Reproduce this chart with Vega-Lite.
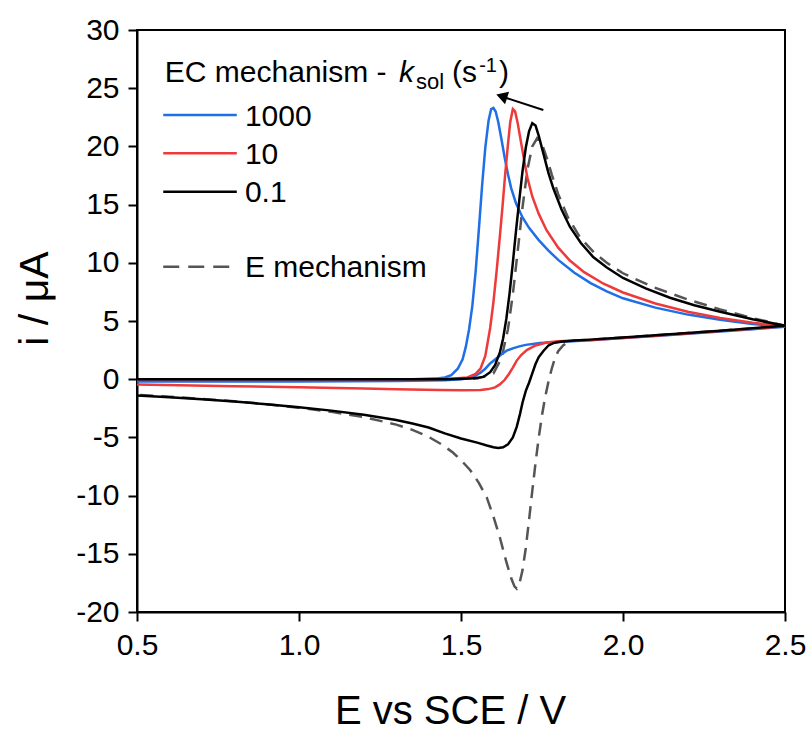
{
  "$schema": "https://vega.github.io/schema/vega-lite/v6.json",
  "width": 648,
  "height": 582,
  "autosize": {"type": "none"},
  "padding": {"left": 137, "top": 30, "right": 27, "bottom": 119},
  "background": "white",
  "config": {
    "font": "Liberation Sans",
    "view": {"stroke": "#000000", "strokeWidth": 2},
    "axis": {
      "grid": false,
      "domainColor": "#000000",
      "domainWidth": 2,
      "tickColor": "#000000",
      "tickWidth": 2,
      "tickSize": 9,
      "labelColor": "#000000",
      "titleColor": "#000000",
      "labelFontSize": 30,
      "titleFontSize": 40,
      "titleFontWeight": "normal",
      "labelFont": "Liberation Sans",
      "titleFont": "Liberation Sans",
      "labelPadding": 9,
      "labelFlush": false,
      "labelOverlap": false,
      "labelExpr": "replace(datum.label, '−', '-')"
    }
  },
  "datasets": {
    "cv": [
      {"s":"E","E":0.5,"i":0},{"s":"E","E":1.0,"i":0},{"s":"E","E":1.45,"i":0},{"s":"E","E":1.55,"i":0.05},{"s":"E","E":1.6,"i":0.5},{"s":"E","E":1.625,"i":1.8},{"s":"E","E":1.645,"i":4.3},{"s":"E","E":1.66,"i":7.3},{"s":"E","E":1.675,"i":11},{"s":"E","E":1.69,"i":14.8},{"s":"E","E":1.705,"i":18},{"s":"E","E":1.72,"i":20},{"s":"E","E":1.735,"i":20.7},{"s":"E","E":1.75,"i":20.2},{"s":"E","E":1.765,"i":19.0},{"s":"E","E":1.78,"i":17.6},{"s":"E","E":1.8,"i":15.9},{"s":"E","E":1.83,"i":13.9},{"s":"E","E":1.867,"i":12.2},{"s":"E","E":1.91,"i":10.9},{"s":"E","E":1.95,"i":10.0},{"s":"E","E":2.0,"i":9.1},{"s":"E","E":2.094,"i":7.9},{"s":"E","E":2.2,"i":6.85},{"s":"E","E":2.3,"i":6.0},{"s":"E","E":2.4,"i":5.25},{"s":"E","E":2.5,"i":4.6},
      {"s":"E","E":2.4,"i":4.38},{"s":"E","E":2.3,"i":4.17},{"s":"E","E":2.2,"i":3.97},{"s":"E","E":2.1,"i":3.77},{"s":"E","E":2.0,"i":3.58},{"s":"E","E":1.9,"i":3.4},{"s":"E","E":1.85,"i":3.32},{"s":"E","E":1.83,"i":3.2},{"s":"E","E":1.815,"i":2.9},{"s":"E","E":1.8,"i":2.4},{"s":"E","E":1.79,"i":1.8},{"s":"E","E":1.78,"i":0.9},{"s":"E","E":1.77,"i":-0.2},{"s":"E","E":1.76,"i":-1.5},{"s":"E","E":1.75,"i":-3.1},{"s":"E","E":1.74,"i":-5},{"s":"E","E":1.73,"i":-7.2},{"s":"E","E":1.72,"i":-9.6},{"s":"E","E":1.71,"i":-12.1},{"s":"E","E":1.7,"i":-14.5},{"s":"E","E":1.69,"i":-16.4},{"s":"E","E":1.68,"i":-17.6},{"s":"E","E":1.672,"i":-18},{"s":"E","E":1.665,"i":-17.8},{"s":"E","E":1.655,"i":-17.1},{"s":"E","E":1.64,"i":-15.7},{"s":"E","E":1.62,"i":-13.6},{"s":"E","E":1.6,"i":-11.8},{"s":"E","E":1.58,"i":-10.2},{"s":"E","E":1.555,"i":-8.9},{"s":"E","E":1.528,"i":-7.8},{"s":"E","E":1.5,"i":-6.95},{"s":"E","E":1.475,"i":-6.3},{"s":"E","E":1.44,"i":-5.6},{"s":"E","E":1.4,"i":-4.95},{"s":"E","E":1.35,"i":-4.35},{"s":"E","E":1.3,"i":-3.9},{"s":"E","E":1.2,"i":-3.25},{"s":"E","E":1.1,"i":-2.8},{"s":"E","E":1.0,"i":-2.45},{"s":"E","E":0.9,"i":-2.15},{"s":"E","E":0.8,"i":-1.9},{"s":"E","E":0.7,"i":-1.7},{"s":"E","E":0.6,"i":-1.5},{"s":"E","E":0.5,"i":-1.35},

      {"s":"1000","E":0.5,"i":0},{"s":"1000","E":1.0,"i":0},{"s":"1000","E":1.35,"i":0},{"s":"1000","E":1.42,"i":0.05},{"s":"1000","E":1.45,"i":0.15},{"s":"1000","E":1.47,"i":0.35},{"s":"1000","E":1.49,"i":0.9},{"s":"1000","E":1.505,"i":1.7},{"s":"1000","E":1.515,"i":2.8},{"s":"1000","E":1.525,"i":4.3},{"s":"1000","E":1.535,"i":6.3},{"s":"1000","E":1.545,"i":9.2},{"s":"1000","E":1.555,"i":12.8},{"s":"1000","E":1.565,"i":16.6},{"s":"1000","E":1.575,"i":19.9},{"s":"1000","E":1.585,"i":22.2},{"s":"1000","E":1.593,"i":23.2},{"s":"1000","E":1.6,"i":23.3},{"s":"1000","E":1.607,"i":23.0},{"s":"1000","E":1.615,"i":22.1},{"s":"1000","E":1.625,"i":20.6},{"s":"1000","E":1.635,"i":19.0},{"s":"1000","E":1.645,"i":17.6},{"s":"1000","E":1.655,"i":16.4},{"s":"1000","E":1.67,"i":15.1},{"s":"1000","E":1.69,"i":13.9},{"s":"1000","E":1.71,"i":13.0},{"s":"1000","E":1.74,"i":11.95},{"s":"1000","E":1.77,"i":11.05},{"s":"1000","E":1.8,"i":10.25},{"s":"1000","E":1.85,"i":9.15},{"s":"1000","E":1.9,"i":8.25},{"s":"1000","E":1.95,"i":7.55},{"s":"1000","E":2.0,"i":6.95},{"s":"1000","E":2.1,"i":6.15},{"s":"1000","E":2.2,"i":5.55},{"s":"1000","E":2.3,"i":5.1},{"s":"1000","E":2.4,"i":4.75},{"s":"1000","E":2.5,"i":4.5},
      {"s":"1000","E":2.4,"i":4.3},{"s":"1000","E":2.3,"i":4.1},{"s":"1000","E":2.2,"i":3.9},{"s":"1000","E":2.1,"i":3.72},{"s":"1000","E":2.0,"i":3.53},{"s":"1000","E":1.9,"i":3.35},{"s":"1000","E":1.8,"i":3.2},{"s":"1000","E":1.744,"i":3.1},{"s":"1000","E":1.7,"i":2.95},{"s":"1000","E":1.68,"i":2.82},{"s":"1000","E":1.66,"i":2.65},{"s":"1000","E":1.641,"i":2.45},{"s":"1000","E":1.625,"i":2.15},{"s":"1000","E":1.61,"i":1.8},{"s":"1000","E":1.59,"i":1.35},{"s":"1000","E":1.575,"i":0.9},{"s":"1000","E":1.56,"i":0.55},{"s":"1000","E":1.545,"i":0.3},{"s":"1000","E":1.525,"i":0.1},{"s":"1000","E":1.5,"i":0},{"s":"1000","E":1.45,"i":-0.1},{"s":"1000","E":1.3,"i":-0.15},{"s":"1000","E":1.0,"i":-0.2},{"s":"1000","E":0.5,"i":-0.2},

      {"s":"10","E":0.5,"i":0},{"s":"10","E":1.0,"i":0},{"s":"10","E":1.4,"i":0},{"s":"10","E":1.48,"i":0.05},{"s":"10","E":1.52,"i":0.15},{"s":"10","E":1.545,"i":0.45},{"s":"10","E":1.56,"i":0.9},{"s":"10","E":1.575,"i":2},{"s":"10","E":1.59,"i":4.4},{"s":"10","E":1.6,"i":6.6},{"s":"10","E":1.61,"i":9.3},{"s":"10","E":1.62,"i":12.3},{"s":"10","E":1.628,"i":14.8},{"s":"10","E":1.636,"i":17.5},{"s":"10","E":1.645,"i":20.2},{"s":"10","E":1.652,"i":22.1},{"s":"10","E":1.66,"i":23.2},{"s":"10","E":1.667,"i":23},{"s":"10","E":1.675,"i":22},{"s":"10","E":1.685,"i":20.4},{"s":"10","E":1.695,"i":18.8},{"s":"10","E":1.705,"i":17.3},{"s":"10","E":1.72,"i":15.7},{"s":"10","E":1.74,"i":14.2},{"s":"10","E":1.764,"i":12.8},{"s":"10","E":1.8,"i":11.3},{"s":"10","E":1.836,"i":10.2},{"s":"10","E":1.88,"i":9.2},{"s":"10","E":1.94,"i":8.2},{"s":"10","E":2.0,"i":7.45},{"s":"10","E":2.1,"i":6.5},{"s":"10","E":2.2,"i":5.8},{"s":"10","E":2.3,"i":5.25},{"s":"10","E":2.4,"i":4.85},{"s":"10","E":2.5,"i":4.55},
      {"s":"10","E":2.4,"i":4.33},{"s":"10","E":2.3,"i":4.13},{"s":"10","E":2.2,"i":3.93},{"s":"10","E":2.1,"i":3.74},{"s":"10","E":2.0,"i":3.55},{"s":"10","E":1.9,"i":3.37},{"s":"10","E":1.8,"i":3.25},{"s":"10","E":1.764,"i":3.15},{"s":"10","E":1.73,"i":2.9},{"s":"10","E":1.703,"i":2.5},{"s":"10","E":1.685,"i":2.05},{"s":"10","E":1.672,"i":1.6},{"s":"10","E":1.66,"i":1.0},{"s":"10","E":1.648,"i":0.45},{"s":"10","E":1.635,"i":-0.05},{"s":"10","E":1.62,"i":-0.45},{"s":"10","E":1.605,"i":-0.7},{"s":"10","E":1.585,"i":-0.85},{"s":"10","E":1.56,"i":-0.92},{"s":"10","E":1.5,"i":-0.95},{"s":"10","E":1.435,"i":-0.93},{"s":"10","E":1.3,"i":-0.87},{"s":"10","E":1.2,"i":-0.8},{"s":"10","E":1.0,"i":-0.7},{"s":"10","E":0.8,"i":-0.6},{"s":"10","E":0.5,"i":-0.45},

      {"s":"0.1","E":0.5,"i":0},{"s":"0.1","E":1.0,"i":0},{"s":"0.1","E":1.45,"i":0},{"s":"0.1","E":1.53,"i":0.05},{"s":"0.1","E":1.57,"i":0.2},{"s":"0.1","E":1.59,"i":0.6},{"s":"0.1","E":1.605,"i":1.2},{"s":"0.1","E":1.62,"i":2.3},{"s":"0.1","E":1.63,"i":3.5},{"s":"0.1","E":1.64,"i":5.2},{"s":"0.1","E":1.65,"i":7.4},{"s":"0.1","E":1.66,"i":10},{"s":"0.1","E":1.67,"i":12.8},{"s":"0.1","E":1.68,"i":15.4},{"s":"0.1","E":1.69,"i":17.9},{"s":"0.1","E":1.7,"i":19.9},{"s":"0.1","E":1.71,"i":21.3},{"s":"0.1","E":1.72,"i":22},{"s":"0.1","E":1.73,"i":21.8},{"s":"0.1","E":1.74,"i":20.9},{"s":"0.1","E":1.755,"i":19.3},{"s":"0.1","E":1.77,"i":17.7},{"s":"0.1","E":1.785,"i":16.4},{"s":"0.1","E":1.81,"i":14.6},{"s":"0.1","E":1.836,"i":13.1},{"s":"0.1","E":1.87,"i":11.7},{"s":"0.1","E":1.908,"i":10.5},{"s":"0.1","E":1.95,"i":9.6},{"s":"0.1","E":2.0,"i":8.7},{"s":"0.1","E":2.07,"i":7.8},{"s":"0.1","E":2.145,"i":7},{"s":"0.1","E":2.22,"i":6.35},{"s":"0.1","E":2.3,"i":5.8},{"s":"0.1","E":2.4,"i":5.15},{"s":"0.1","E":2.5,"i":4.6},
      {"s":"0.1","E":2.4,"i":4.38},{"s":"0.1","E":2.3,"i":4.17},{"s":"0.1","E":2.2,"i":3.97},{"s":"0.1","E":2.1,"i":3.77},{"s":"0.1","E":2.0,"i":3.58},{"s":"0.1","E":1.9,"i":3.4},{"s":"0.1","E":1.85,"i":3.32},{"s":"0.1","E":1.806,"i":3.22},{"s":"0.1","E":1.785,"i":3.1},{"s":"0.1","E":1.77,"i":2.9},{"s":"0.1","E":1.755,"i":2.45},{"s":"0.1","E":1.74,"i":1.9},{"s":"0.1","E":1.73,"i":1.3},{"s":"0.1","E":1.72,"i":0.5},{"s":"0.1","E":1.71,"i":-0.3},{"s":"0.1","E":1.7,"i":-1},{"s":"0.1","E":1.69,"i":-2},{"s":"0.1","E":1.682,"i":-3},{"s":"0.1","E":1.672,"i":-4.1},{"s":"0.1","E":1.66,"i":-5},{"s":"0.1","E":1.645,"i":-5.6},{"s":"0.1","E":1.63,"i":-5.85},{"s":"0.1","E":1.615,"i":-5.9},{"s":"0.1","E":1.6,"i":-5.85},{"s":"0.1","E":1.58,"i":-5.7},{"s":"0.1","E":1.55,"i":-5.45},{"s":"0.1","E":1.5,"i":-5.1},{"s":"0.1","E":1.45,"i":-4.65},{"s":"0.1","E":1.4,"i":-4.15},{"s":"0.1","E":1.35,"i":-3.8},{"s":"0.1","E":1.3,"i":-3.5},{"s":"0.1","E":1.2,"i":-3.05},{"s":"0.1","E":1.1,"i":-2.7},{"s":"0.1","E":1.0,"i":-2.4},{"s":"0.1","E":0.9,"i":-2.15},{"s":"0.1","E":0.8,"i":-1.92},{"s":"0.1","E":0.7,"i":-1.72},{"s":"0.1","E":0.6,"i":-1.55},{"s":"0.1","E":0.5,"i":-1.4}
    ],
    "leg": [
      {"s":"1000","E1":0.581,"E2":0.808,"i":22.7,"lab":"1000","lE":0.833,"li":21.71},
      {"s":"10","E1":0.581,"E2":0.808,"i":19.41,"lab":"10","lE":0.833,"li":18.49},
      {"s":"0.1","E1":0.581,"E2":0.808,"i":16.11,"lab":"0.1","lE":0.833,"li":15.19},
      {"s":"E","E1":0.581,"E2":0.808,"i":9.67,"lab":"E mechanism","lE":0.833,"li":8.75}
    ],
    "ttl": [
      {"g":"main","E":0.586,"i":25.49,"t":"EC mechanism -"},
      {"g":"ital","E":1.309,"i":25.49,"t":"k"},
      {"g":"sub","E":1.361,"i":24.89,"t":"sol"},
      {"g":"main","E":1.472,"i":25.49,"t":"(s"},
      {"g":"sup","E":1.556,"i":26.43,"t":"-1"},
      {"g":"main","E":1.617,"i":25.49,"t":")"}
    ],
    "arrow": [
      {"E":1.754,"i":23.13,"E2":1.63,"i2":24.25,"hE":1.6256,"hi":24.31}
    ]
  },
  "layer": [
    {
      "data": {"name": "cv"},
      "transform": [{"filter": "datum.s === 'E'"}],
      "mark": {"type": "line", "strokeWidth": 2.5, "strokeDash": [13, 8], "color": "#555555"},
      "encoding": {
        "x": {"field": "E", "type": "quantitative",
          "scale": {"domain": [0.5, 2.5], "nice": false, "zero": false},
          "axis": {"title": "E vs SCE / V", "values": [0.5, 1.0, 1.5, 2.0, 2.5], "format": ".1f",
            "titleBaseline": "alphabetic", "titleY": 111, "titleX": 313, "titleAlign": "center"}},
        "y": {"field": "i", "type": "quantitative",
          "scale": {"domain": [-20, 30], "nice": false, "zero": false},
          "axis": {"title": "i / μA", "values": [-20, -15, -10, -5, 0, 5, 10, 15, 20, 25, 30],
            "titleFontSize": 41,
            "titleAngle": -90, "titleBaseline": "alphabetic", "titleX": -90, "titleY": 268, "titleAlign": "center"}},
        "order": {"value": null}
      }
    },
    {
      "data": {"name": "cv"},
      "transform": [{"filter": "datum.s !== 'E'"}],
      "mark": {"type": "line", "strokeWidth": 2.5},
      "encoding": {
        "x": {"field": "E", "type": "quantitative"},
        "y": {"field": "i", "type": "quantitative"},
        "color": {"field": "s", "type": "nominal",
          "scale": {"domain": ["1000", "10", "0.1"], "range": ["#1f6fe6", "#ee3a3a", "#000000"]},
          "legend": null},
        "order": {"value": null}
      }
    },
    {
      "data": {"name": "leg"},
      "transform": [{"filter": "datum.s !== 'E'"}],
      "mark": {"type": "rule", "strokeWidth": 2.5},
      "encoding": {
        "x": {"field": "E1", "type": "quantitative"},
        "x2": {"field": "E2"},
        "y": {"field": "i", "type": "quantitative"},
        "color": {"field": "s", "type": "nominal", "legend": null}
      }
    },
    {
      "data": {"name": "leg"},
      "transform": [{"filter": "datum.s === 'E'"}],
      "mark": {"type": "rule", "strokeWidth": 2.5, "strokeDash": [16, 9], "color": "#555555"},
      "encoding": {
        "x": {"field": "E1", "type": "quantitative"},
        "x2": {"field": "E2"},
        "y": {"field": "i", "type": "quantitative"}
      }
    },
    {
      "data": {"name": "leg"},
      "mark": {"type": "text", "align": "left", "baseline": "alphabetic", "fontSize": 30, "color": "#000000", "font": "Liberation Sans"},
      "encoding": {
        "x": {"field": "lE", "type": "quantitative"},
        "y": {"field": "li", "type": "quantitative"},
        "text": {"field": "lab"}
      }
    },
    {
      "data": {"name": "ttl"},
      "transform": [{"filter": "datum.g === 'main'"}],
      "mark": {"type": "text", "align": "left", "baseline": "alphabetic", "fontSize": 30, "color": "#000000", "font": "Liberation Sans"},
      "encoding": {
        "x": {"field": "E", "type": "quantitative"},
        "y": {"field": "i", "type": "quantitative"},
        "text": {"field": "t"}
      }
    },
    {
      "data": {"name": "ttl"},
      "transform": [{"filter": "datum.g === 'ital'"}],
      "mark": {"type": "text", "align": "left", "baseline": "alphabetic", "fontSize": 30, "fontStyle": "italic", "color": "#000000", "font": "Liberation Sans"},
      "encoding": {
        "x": {"field": "E", "type": "quantitative"},
        "y": {"field": "i", "type": "quantitative"},
        "text": {"field": "t"}
      }
    },
    {
      "data": {"name": "ttl"},
      "transform": [{"filter": "datum.g === 'sub'"}],
      "mark": {"type": "text", "align": "left", "baseline": "alphabetic", "fontSize": 22, "color": "#000000", "font": "Liberation Sans"},
      "encoding": {
        "x": {"field": "E", "type": "quantitative"},
        "y": {"field": "i", "type": "quantitative"},
        "text": {"field": "t"}
      }
    },
    {
      "data": {"name": "ttl"},
      "transform": [{"filter": "datum.g === 'sup'"}],
      "mark": {"type": "text", "align": "left", "baseline": "alphabetic", "fontSize": 20, "color": "#000000", "font": "Liberation Sans"},
      "encoding": {
        "x": {"field": "E", "type": "quantitative"},
        "y": {"field": "i", "type": "quantitative"},
        "text": {"field": "t"}
      }
    },
    {
      "data": {"name": "arrow"},
      "mark": {"type": "rule", "strokeWidth": 2, "color": "#000000"},
      "encoding": {
        "x": {"field": "E", "type": "quantitative"},
        "y": {"field": "i", "type": "quantitative"},
        "x2": {"field": "E2"},
        "y2": {"field": "i2"}
      }
    },
    {
      "data": {"name": "arrow"},
      "mark": {"type": "point", "shape": "triangle-left", "filled": true, "size": 170, "angle": 18, "color": "#000000", "opacity": 1},
      "encoding": {
        "x": {"field": "hE", "type": "quantitative"},
        "y": {"field": "hi", "type": "quantitative"}
      }
    }
  ]
}
